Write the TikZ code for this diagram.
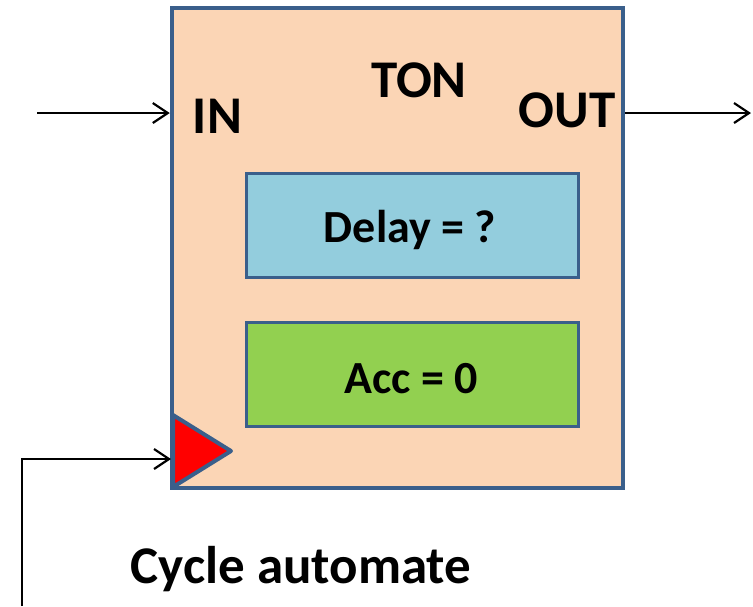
\documentclass[tikz,border=0pt]{standalone}
\usepackage{fontspec}
\setmainfont{Carlito}
\usetikzlibrary{arrows.meta}
\definecolor{bordblue}{HTML}{3A5F8B}
\definecolor{peach}{HTML}{FBD5B5}
\definecolor{aqua}{HTML}{93CDDD}
\definecolor{lgreen}{HTML}{92D050}
\tikzset{
  blockbox/.style={draw=bordblue, line width=4.5pt, fill=peach, rectangle, inner sep=0pt, minimum width=451pt, minimum height=480pt},
  parbox/.style={draw=bordblue, line width=3pt, rectangle, inner sep=0pt, minimum width=332pt, minimum height=104pt},
  bigtxt/.style={font=\fontsize{53}{60}\selectfont\bfseries, inner sep=0pt, anchor=base},
  midtxt/.style={font=\fontsize{46}{54}\selectfont\bfseries, inner sep=0pt, anchor=base},
  arr/.style={draw=black, line width=2.2pt, -{Straight Barb[length=15pt,width=20pt,line width=2.2pt]}},
  wire/.style={draw=black, line width=2pt}
}
\begin{document}
\begin{tikzpicture}[x=1pt,y=-1pt]
\useasboundingbox (0,0) rectangle (753,606);
\node[blockbox] (blk) at (397.5,248) {};
\node[parbox, fill=aqua] (delaybox) at (412,225) {};
\node[parbox, fill=lgreen] (accbox) at (412,374) {};
\node[bigtxt] (ton) at (419,97) {TON};
\node[bigtxt] (in) at (217.5,133) {IN};
\node[bigtxt] (out) at (567,127) {OUT};
\node[midtxt] (delay) at (410,242) {Delay = ?};
\node[midtxt] (acc) at (411,393) {Acc = 0};
\node[bigtxt] (cycle) at (301,583) {Cycle automate};
% clock triangle
\draw[draw=bordblue, line width=4pt, fill=red, line join=round] (173,415) coordinate (tritop) -- (231,451) coordinate (triapex) -- (173,487) coordinate (tribot) -- cycle;
% connectors
\coordinate (inStart) at (37,113);
\coordinate (outEnd) at (751,113);
\coordinate (clkStart) at (22,606);
\coordinate (clkIn) at (171,459);
\draw[arr] (inStart) -- (blk.west |- inStart);
\draw[arr] (blk.east |- outEnd) -- (outEnd);
\draw[arr] (clkStart) |- (clkIn);
\end{tikzpicture}
\end{document}
